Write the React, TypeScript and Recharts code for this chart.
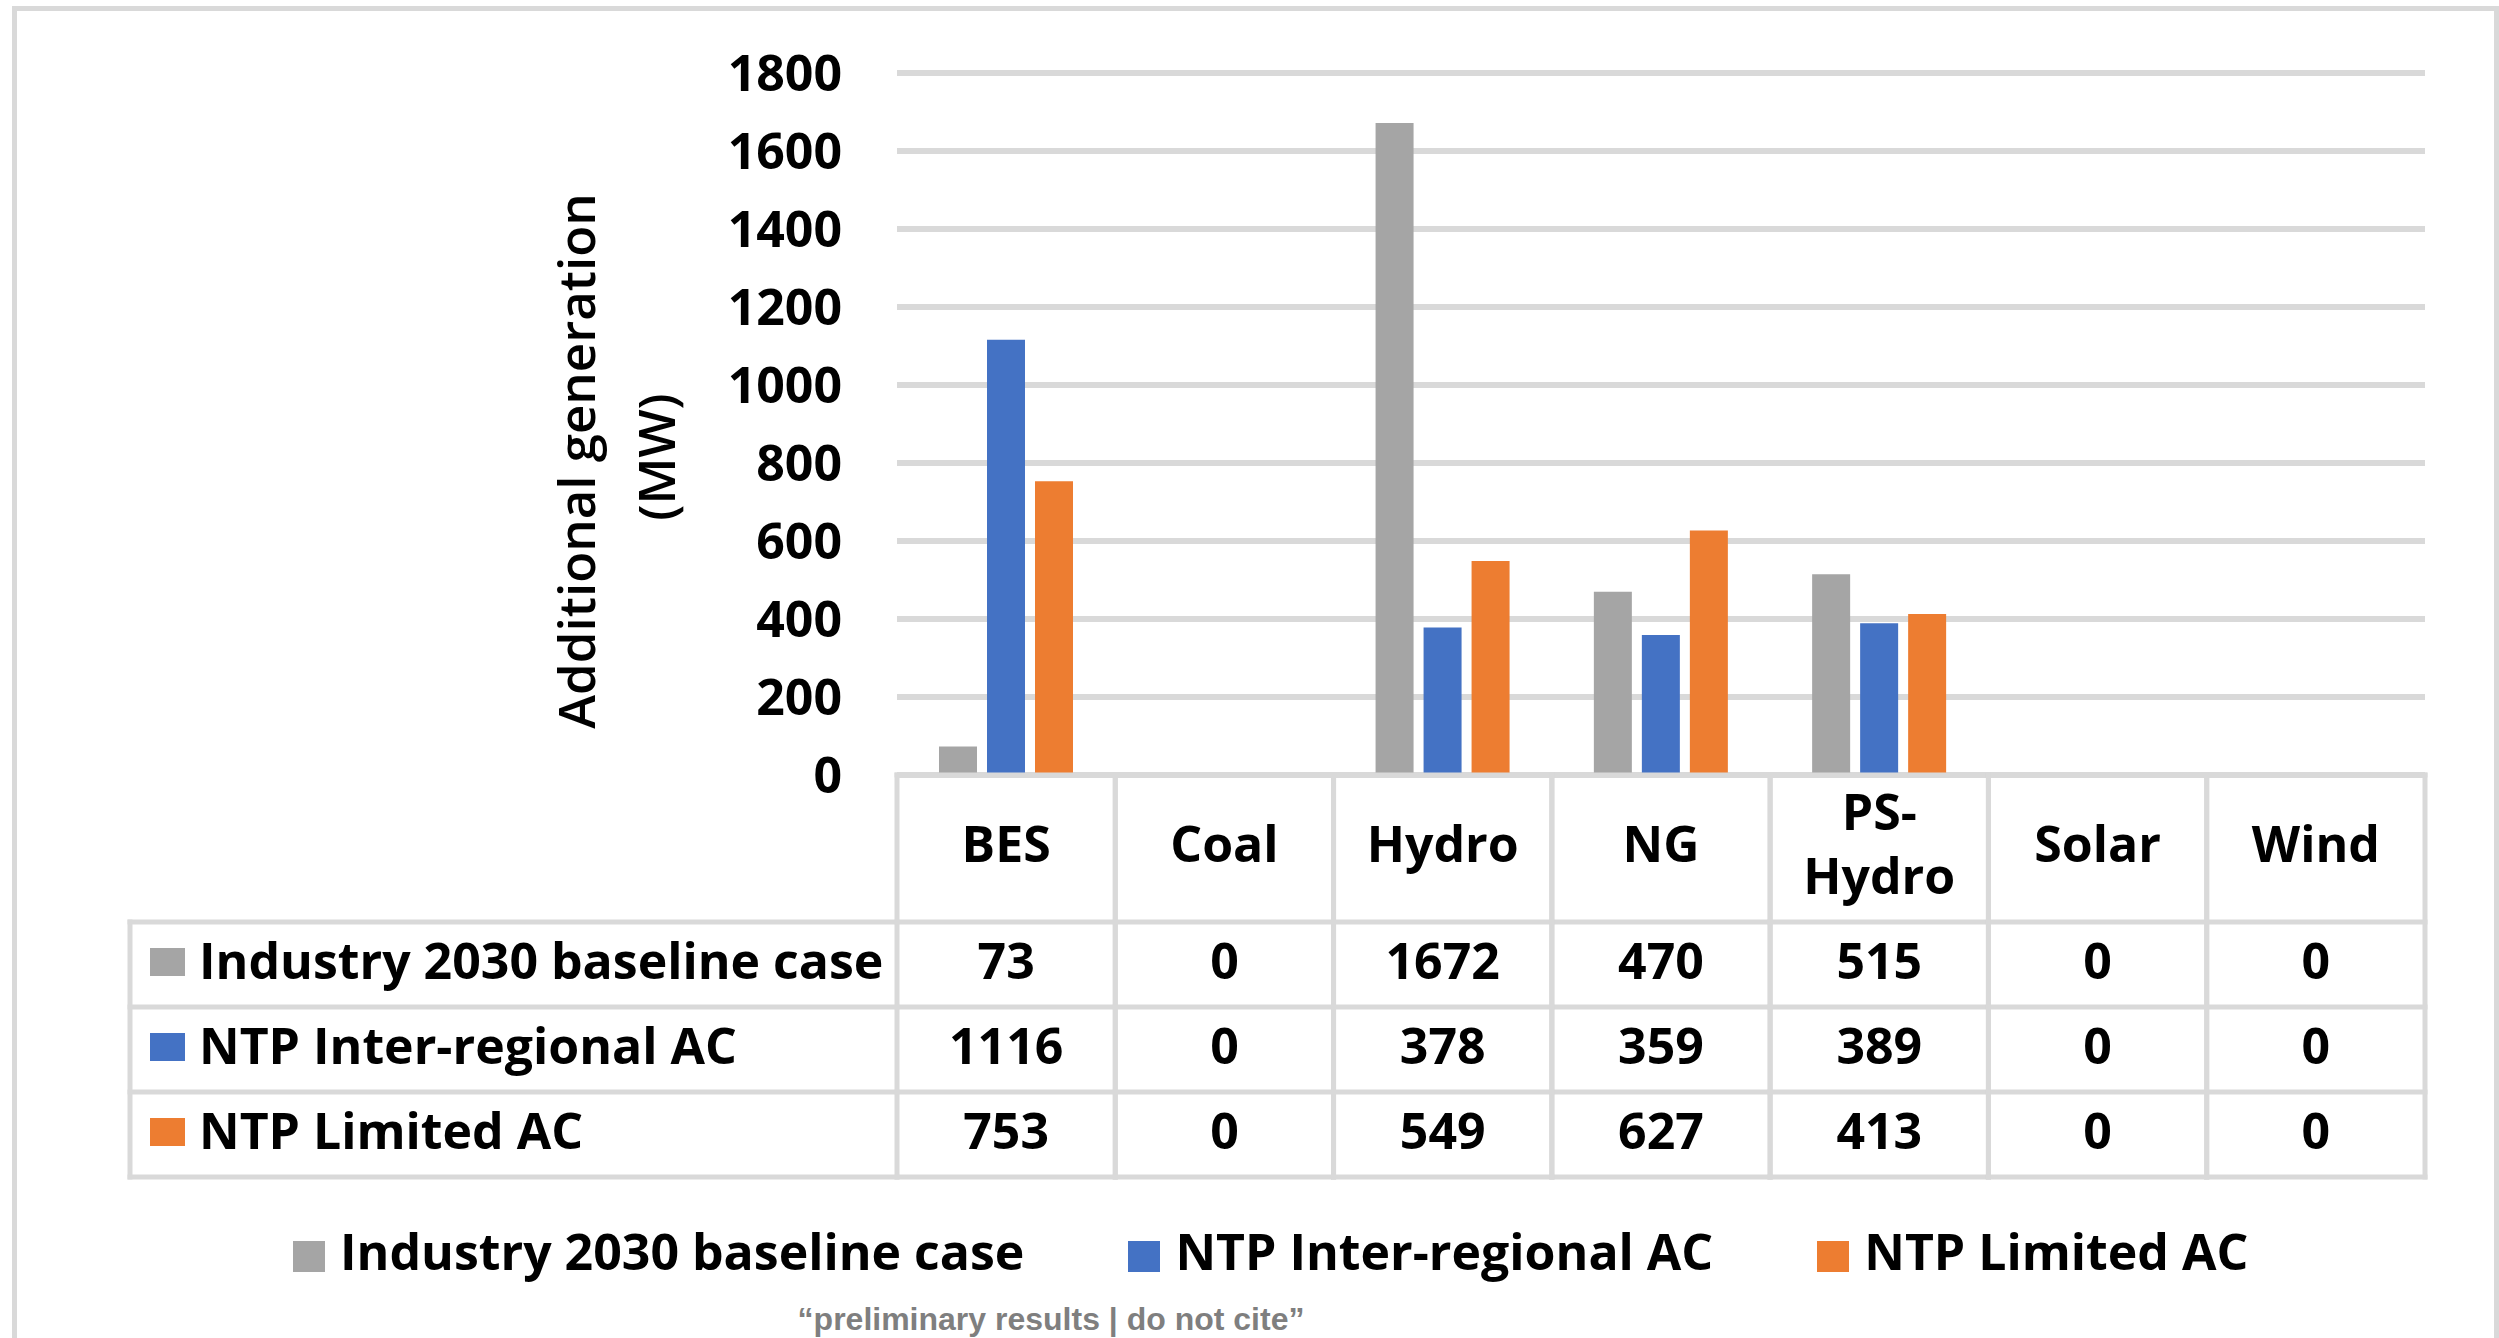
import { BarChart, Bar, XAxis, YAxis, CartesianGrid } from 'recharts'

// generation type per column, and the added MW for each scenario
const categories = ['BES', 'Coal', 'Hydro', 'NG', 'PS-Hydro', 'Solar', 'Wind']
const industryBaseline = [73, 0, 1672, 470, 515, 0, 0]
const ntpInterRegional = [1116, 0, 378, 359, 389, 0, 0]
const ntpLimited = [753, 0, 549, 627, 413, 0, 0]

const seriesKeys = ['industry', 'interRegional', 'limited']
const seriesNames = ['Industry 2030 baseline case', 'NTP Inter-regional AC', 'NTP Limited AC']
const seriesColors = ['#A5A5A5', '#4472C4', '#ED7D31']
const seriesValues = [industryBaseline, ntpInterRegional, ntpLimited]

const yTicks = [0, 200, 400, 600, 800, 1000, 1200, 1400, 1600, 1800]
const axisTitle = ['Additional generation', '(MW)']
const footnote = '\u201Cpreliminary results | do not cite\u201D'

const data = categories.map((name, i) => {
    const row: Record<string, string | number> = { name }
    seriesKeys.forEach((k, s) => { row[k] = seriesValues[s][i] })
    return row
})

const W = 2499
const H = 1338
const PLOT_LEFT = 897
const PLOT_RIGHT = 2425
const PLOT_TOP = 73
const PLOT_BOTTOM = 775
const MARGIN_BOTTOM = 150
const BAND = (PLOT_RIGHT - PLOT_LEFT) / categories.length

const GRID = '#D9D9D9'
const LINE_W = 5
const FONT = 50
// data table under the axis, offsets from the axis line
const ROW_LINES = [147, 232, 317, 402]
const ROW_BASE = [204, 289, 374]
const KEY_LEFT = 130

const hline = (x1: number, x2: number, y: number, key: string) => (
    <line key={key} x1={x1} x2={x2} y1={y} y2={y} stroke={GRID} strokeWidth={LINE_W} strokeLinecap='square' />
)
const vline = (x: number, y1: number, y2: number, key: string) => (
    <line key={key} x1={x} x2={x} y1={y1} y2={y2} stroke={GRID} strokeWidth={LINE_W} strokeLinecap='square' />
)

const TableColumn = (props: any) => {
    const { x, y, payload, index } = props
    const i: number = index ?? payload.index
    const left = x - BAND / 2
    const right = x + BAND / 2
    const bottom = y + ROW_LINES[3]
    const name: string = payload.value
    const dash = name.indexOf('-')
    const lines = dash >= 0 ? [name.slice(0, dash + 1), name.slice(dash + 1)] : [name]
    const headerBase = lines.length > 1 ? [55, 119] : [87]
    return (
        <g>
            {hline(left, right, y, 'top')}
            {ROW_LINES.map((dy, k) => hline(left, right, y + dy, 'r' + k))}
            {vline(left, y, bottom, 'l')}
            {vline(right, y, bottom, 'r')}
            {lines.map((t, k) => (
                <text key={'h' + k} x={x} y={y + headerBase[k]} textAnchor='middle' fontSize={FONT} fontWeight={700} fill='#000'>{t}</text>
            ))}
            {seriesValues.map((vals, s) => (
                <text key={'v' + s} x={x} y={y + ROW_BASE[s]} textAnchor='middle' fontSize={FONT} fontWeight={700} fill='#000'>{vals[i]}</text>
            ))}
            {i === 0 && (
                <g>
                    {ROW_LINES.map((dy, k) => hline(KEY_LEFT, left, y + dy, 'k' + k))}
                    {vline(KEY_LEFT, y + ROW_LINES[0], bottom, 'kl')}
                    {seriesNames.map((n, s) => (
                        <g key={'n' + s}>
                            <rect x={150} y={y + ROW_BASE[s] - 31} width={35} height={28} fill={seriesColors[s]} />
                            <text x={199} y={y + ROW_BASE[s]} fontSize={FONT} fontWeight={700} fill='#000'>{n}</text>
                        </g>
                    ))}
                </g>
            )}
        </g>
    )
}

const AxisTitle = () => (
    <g>
        {axisTitle.map((t, k) => {
            const bx = k === 0 ? 595 : 675
            const cy = k === 0 ? 461 : 457
            return (
                <text key={k} x={bx} y={cy} transform={`rotate(-90, ${bx}, ${cy})`} textAnchor='middle' fontSize={51} fontWeight={600} fill='#000'>{t}</text>
            )
        })}
    </g>
)

const App = () => {
    return (
        <div style={{ position: 'absolute', left: 0, top: 0, width: W, height: H, overflow: 'hidden', background: '#fff', fontFamily: "'Open Sans', sans-serif" }}>
            <div style={{ position: 'absolute', left: 12, top: 6, width: 2487, height: 1400, border: `5px solid ${GRID}`, boxSizing: 'border-box' }} />
            <div style={{ position: 'absolute', left: 0, top: 0 }}>
                <BarChart width={W} height={H} data={data} barGap={10}
                    margin={{ top: PLOT_TOP, right: W - PLOT_RIGHT, bottom: MARGIN_BOTTOM, left: 0 }}>
                    <CartesianGrid vertical={false} stroke={GRID} strokeWidth={6} />
                    <XAxis dataKey='name' interval={0} axisLine={false} tickLine={false} tickSize={0} tickMargin={0}
                        height={H - MARGIN_BOTTOM - PLOT_BOTTOM} tick={<TableColumn />} />
                    <YAxis width={PLOT_LEFT} domain={[0, 1800]} ticks={yTicks} interval={0} axisLine={false} tickLine={false}
                        tickSize={0} tickMargin={55} tick={{ fill: '#000', fontSize: FONT, fontWeight: 700 }}
                        label={() => <AxisTitle />} />
                    {seriesKeys.map((k, s) => (
                        <Bar key={k} dataKey={k} name={seriesNames[s]} fill={seriesColors[s]} barSize={38} isAnimationActive={false} />
                    ))}
                </BarChart>
            </div>
            <div style={{ position: 'absolute', left: 293, top: 1217, display: 'flex', alignItems: 'center', fontSize: FONT, fontWeight: 700, lineHeight: '68px', color: '#000', whiteSpace: 'nowrap' }}>
                {seriesNames.map((n, s) => (
                    <div key={n} style={{ display: 'flex', alignItems: 'center', marginRight: 104 }}>
                        <span style={{ display: 'inline-block', width: 32, height: 31, background: seriesColors[s], marginRight: 15, position: 'relative', top: 5 }} />
                        <span>{n}</span>
                    </div>
                ))}
            </div>
            <svg width={W} height={H} style={{ position: 'absolute', left: 0, top: 0, pointerEvents: 'none' }}>
                <text x={1051} y={1330} textAnchor='middle' fontFamily="'Liberation Sans', Arial, sans-serif" fontWeight={700} fontSize={32} fill='#7F7F7F'>{footnote}</text>
            </svg>
        </div>
    )
}

export default App
